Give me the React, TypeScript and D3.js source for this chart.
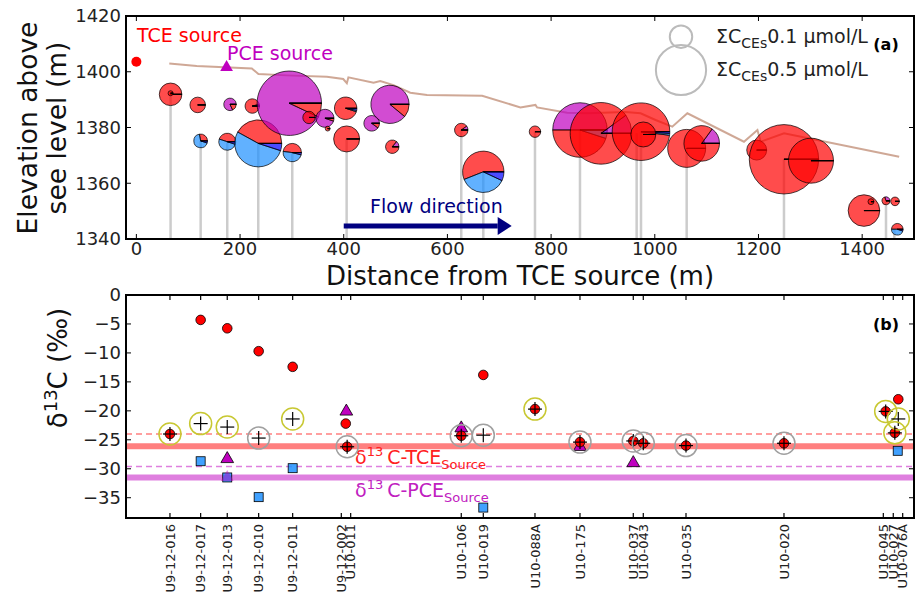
import React from "react";
import * as d3 from "d3";

const W = 917;
const H = 601;

// ---- Panel (a): ground surface profile ----
const surfaceDistance = [63.5, 116.5, 222.7, 235.4, 290.3, 367.5, 399, 406, 409, 457.5, 470.5, 496, 528.4, 560.6, 667, 740.8, 769.8, 773, 831, 869.6, 943.6, 972.6, 1001.5, 1033.8, 1062.8, 1172, 1198, 1204.3, 1249.3, 1471.4];
const surfaceElevation = [1403.0, 1402.1, 1401.2, 1399.2, 1398.7, 1398.2, 1397.4, 1395.9, 1398.0, 1396.1, 1396.7, 1395.2, 1392.5, 1391.7, 1391.4, 1387.2, 1388.1, 1387.2, 1385.3, 1385.1, 1385.6, 1385.1, 1382.7, 1380.3, 1385.1, 1374.9, 1379.1, 1374.9, 1377.9, 1369.5];

// ---- Panel (a): sampling points (pies) ----
const pieDistance = [66, 66, 118.3, 124, 180.6, 175.3, 223.6, 235.1, 295, 300.7, 333, 363.8, 369, 403.7, 405.6, 453.9, 489.2, 493.6, 626.7, 669.2, 768.9, 855.7, 896.2, 973.4, 977.8, 1061.5, 1090.5, 1196.6, 1249.2, 1301.3, 1403.5, 1417, 1446, 1463.4, 1467.8];
const pieElevation = [1391.9, 1392.3, 1388.1, 1375.2, 1388.3, 1374.9, 1387.7, 1374.3, 1388.7, 1371, 1383.6, 1383.3, 1379.6, 1386.9, 1375.9, 1381.5, 1388.3, 1373.1, 1379.1, 1364.1, 1378.5, 1379.1, 1377.9, 1378.5, 1377.5, 1372.5, 1374.3, 1371.9, 1368.6, 1368.1, 1350.2, 1353.4, 1353.7, 1353.5, 1343.5];
// total chlorinated ethenes, µmol/L
const pieTotal = [0.101, 0.005, 0.048, 0.037, 0.031, 0.057, 0.041, 0.438, 0.823, 0.067, 0.0305, 0.064, 0.0046, 0.1, 0.134, 0.048, 0.29, 0.036, 0.036, 0.34, 0.026, 0.59, 0.753, 0.658, 0.124, 0.286, 0.251, 0.079, 0.955, 0.402, 0.198, 0.007, 0.0127, 0.0147, 0.0267];
// molar shares: [PCE, TCE, cDCE, VC]
const pieShares: number[][] = [
  [0, 1, 0, 0], [0, 1, 0, 0], [0, 1, 0, 0], [0, 0.28, 0.67, 0.05], [0.82, 0.18, 0, 0],
  [0, 0.45, 0.5, 0.05], [0.04, 0.96, 0, 0], [0, 0.42, 0.53, 0.05], [0.93, 0.07, 0, 0], [0, 0.48, 0.48, 0.04],
  [0, 1, 0, 0], [0.95, 0.05, 0, 0], [0, 1, 0, 0], [0, 0.95, 0.02, 0.03], [0, 1, 0, 0],
  [0.9, 0.1, 0, 0], [0.89, 0.11, 0, 0], [0.14, 0.86, 0, 0], [0.1, 0.9, 0, 0], [0, 0.56, 0.37, 0.07],
  [0, 1, 0, 0], [0.5, 0.45, 0.05, 0], [0.1, 0.9, 0, 0], [0, 0.98, 0.01, 0.01], [0, 1, 0, 0],
  [0, 1, 0, 0], [0.15, 0.85, 0, 0], [0, 1, 0, 0], [0, 1, 0, 0], [0, 1, 0, 0],
  [0, 1, 0, 0], [0, 1, 0, 0], [0.3, 0.7, 0, 0], [0, 1, 0, 0], [0, 0.5, 0.45, 0.05],
];
const speciesColors = ["#bf00bf", "#ff0000", "#1e90ff", "#0000ff"];

// well screens drawn as stems from the axis floor
const stemDistance = [66, 124, 175.3, 235.1, 300.7, 405.6, 626.7, 669.2, 768.9, 855.7, 965, 973.4, 1061.5, 1249.2, 1446, 1462];
const stemTop = [1391.9, 1375.2, 1374.9, 1374.3, 1371, 1375.9, 1379.1, 1364.1, 1378.5, 1379.1, 1378, 1378.5, 1372.5, 1368.6, 1353.7, 1343.5];

const sizeLegend = [0.1, 0.5];
const elevTicks = [1340, 1360, 1380, 1400, 1420];
const distTicks = [0, 200, 400, 600, 800, 1000, 1200, 1400];

// ---- Panel (b): wells and carbon isotope values ----
const wellNames = ["U9-12-016", "U9-12-017", "U9-12-013", "U9-12-010", "U9-12-011", "U9-12-002", "U10-011", "U10-106", "U10-019", "U10-088A", "U10-175", "U10-037", "U10-043", "U10-035", "U10-020", "U10-045", "U10-027", "U10-076A"];
const wellDistance = [64.8, 124, 175.3, 235.9, 301.5, 395.3, 413.4, 626.7, 669.2, 768.9, 855.7, 958.5, 977.8, 1060.2, 1249.2, 1440.8, 1460, 1478.2];

const tceDist = [64.8, 124, 175.3, 235.9, 301.5, 403.9, 406.6, 626.7, 669.2, 768.9, 855.7, 958.5, 977.8, 1060.2, 1249.2, 1445.4, 1469.7, 1463];
const tceDelta = [-24.0, -4.3, -5.75, -9.7, -12.4, -22.2, -26.2, -24.3, -13.8, -19.7, -25.4, -25.2, -25.6, -26.0, -25.6, -20.1, -18.0, -23.8];

const pceDist = [175.3, 175.3, 405, 626.7, 855.7, 958.5];
const pceDelta = [-31.5, -28.3, -20.1, -23.0, -26.2, -29.0];

const dceDist = [124, 175.3, 235.9, 301.5, 669.2, 1468.6];
const dceDelta = [-28.7, -31.5, -34.9, -29.9, -36.7, -26.9];

// isotope mass balance of all ethenes; flag 1 = ring in olive
const sumDist = [64.8, 124, 175.3, 235.9, 301.5, 406.6, 626.7, 669.2, 768.9, 855.7, 958.5, 977.8, 1060.2, 1249.2, 1445.4, 1469.7, 1463];
const sumDelta = [-24.0, -22.2, -22.8, -24.7, -21.4, -26.2, -24.3, -24.2, -19.7, -25.4, -25.2, -25.6, -26.0, -25.6, -20.1, -21.4, -23.8];
const sumFlag = [1, 1, 1, 0, 1, 0, 0, 0, 1, 0, 0, 0, 0, 0, 1, 1, 1];

const tceSource = { mean: -26.1, upper: -24.0 };
const pceSource = { mean: -31.5, upper: -29.6 };
const deltaTicks = [0, -5, -10, -15, -20, -25, -30, -35];

const FONT = "DejaVu Sans, sans-serif";

export default function App() {
  const x = d3.scaleLinear().domain([-20, 1500]).range([126, 914]);
  const yA = d3.scaleLinear().domain([1340, 1420]).range([239, 16]);
  const yB = d3.scaleLinear().domain([-38.5, 0]).range([518, 295]);
  const r = d3.scaleSqrt().domain([0, 1]).range([0, 35.5]);

  const pieGen = d3
    .pie<number>()
    .sort(null)
    .value((d) => d)
    .startAngle(Math.PI / 2)
    .endAngle(Math.PI / 2 - 2 * Math.PI);

  const surfaceLine = d3
    .line<number>()
    .x((_, i) => x(surfaceDistance[i]))
    .y((d) => yA(d));

  const [xa0, xa1] = x.range();
  const [ya0, ya1] = yA.range();
  const [yb0, yb1] = yB.range();
  const tickLen = 5;

  const triangle = d3.symbol(d3.symbolTriangle, 70)() as string;
  const fmt = d3.format("d");

  return (
    <svg
      width={W}
      height={H}
      style={{ position: "absolute", left: 0, top: 0, background: "#fff" }}
      fontFamily={FONT}
    >
      <defs>
        <clipPath id="clipA">
          <rect x={xa0} y={ya1} width={xa1 - xa0} height={ya0 - ya1} />
        </clipPath>
      </defs>

      {/* ================= Panel (a) ================= */}
      <g clipPath="url(#clipA)">
        {stemDistance.map((d, i) => (
          <line
            key={"st" + i}
            x1={x(d)}
            x2={x(d)}
            y1={ya0}
            y2={yA(stemTop[i])}
            stroke="#808080"
            strokeOpacity={0.4}
            strokeWidth={2.5}
          />
        ))}
        <path
          d={surfaceLine(surfaceElevation) || ""}
          fill="none"
          stroke="sienna"
          strokeOpacity={0.5}
          strokeWidth={2}
        />
        {pieDistance.map((d, i) => {
          const cx = x(d);
          const cy = yA(pieElevation[i]);
          const rad = r(pieTotal[i]);
          const arc = d3.arc<d3.PieArcDatum<number>>().innerRadius(0).outerRadius(rad);
          return (
            <g key={"pie" + i} transform={`translate(${cx},${cy})`}>
              {pieGen(pieShares[i]).map((a, j) => (
                <path
                  key={j}
                  d={arc(a) || ""}
                  fill={speciesColors[j]}
                  fillOpacity={0.7}
                  stroke="#000"
                  strokeOpacity={0.7}
                  strokeWidth={1}
                />
              ))}
              <line x1={0} y1={0} x2={rad} y2={0} stroke="#000" strokeWidth={1} strokeOpacity={0.8} />
            </g>
          );
        })}
        {/* flow direction arrow */}
        <line
          x1={x(400)}
          x2={x(697)}
          y1={yA(1344.7)}
          y2={yA(1344.7)}
          stroke="#000080"
          strokeWidth={5}
        />
        <path
          d={`M${x(697)},${yA(1344.7) - 9} L${x(724)},${yA(1344.7)} L${x(697)},${yA(1344.7) + 9} Z`}
          fill="#000080"
        />
      </g>

      {/* sources */}
      <circle cx={x(0)} cy={yA(1403.6)} r={5} fill="#ff0000" />
      <path d={triangle} transform={`translate(${x(174)},${yA(1401.6)})`} fill="#bf00bf" />
      <text x={137} y={42} fontSize={19} fill="#ff0000">TCE source</text>
      <text x={227} y={60} fontSize={19} fill="#bf00bf">PCE source</text>
      <text x={370} y={213} fontSize={19} fill="#000080">Flow direction</text>

      {/* size legend */}
      {sizeLegend.map((c, i) => (
        <g key={"lg" + i}>
          <circle
            cx={681}
            cy={i === 0 ? 36.7 : 70}
            r={r(c)}
            fill="none"
            stroke="#bbbbbb"
            strokeWidth={2}
          />
          <text x={716} y={i === 0 ? 43 : 76} fontSize={19} fill="#222">
            ΣC<tspan fontSize={14} dy={5}>CEs</tspan>
            <tspan dy={-5}>{c} µmol/L</tspan>
          </text>
        </g>
      ))}
      <text x={886} y={50} fontSize={16} fontWeight="bold" textAnchor="middle">(a)</text>

      {/* axes (a) */}
      <rect x={xa0} y={ya1} width={xa1 - xa0} height={ya0 - ya1} fill="none" stroke="#000" strokeWidth={2} />
      {elevTicks.map((t) => (
        <g key={"ey" + t}>
          <line x1={xa0} x2={xa0 + tickLen} y1={yA(t)} y2={yA(t)} stroke="#000" strokeWidth={1} />
          <line x1={xa1} x2={xa1 - tickLen} y1={yA(t)} y2={yA(t)} stroke="#000" strokeWidth={1} />
          <text x={xa0 - 5} y={yA(t)} dy="0.35em" textAnchor="end" fontSize={18} fill="#222">
            {t}
          </text>
        </g>
      ))}
      {distTicks.map((t) => (
        <g key={"dx" + t}>
          <line x1={x(t)} x2={x(t)} y1={ya0} y2={ya0 - tickLen} stroke="#000" strokeWidth={1} />
          <line x1={x(t)} x2={x(t)} y1={ya1} y2={ya1 + tickLen} stroke="#000" strokeWidth={1} />
          <text x={x(t)} y={255} textAnchor="middle" fontSize={18} fill="#222">
            {t}
          </text>
        </g>
      ))}
      <text x={520} y={285} textAnchor="middle" fontSize={26} fill="#111">
        Distance from TCE source (m)
      </text>
      <g transform="translate(37,128) rotate(-90)">
        <text textAnchor="middle" fontSize={26.5} fill="#111">Elevation above</text>
      </g>
      <g transform="translate(66,128) rotate(-90)">
        <text textAnchor="middle" fontSize={26.5} fill="#111">see level (m)</text>
      </g>

      {/* ================= Panel (b) ================= */}
      {/* source signatures */}
      <line x1={xa0} x2={xa1} y1={yB(tceSource.mean)} y2={yB(tceSource.mean)} stroke="#ff0000" strokeOpacity={0.5} strokeWidth={6} />
      <line x1={xa0} x2={xa1} y1={yB(tceSource.upper)} y2={yB(tceSource.upper)} stroke="#ff0000" strokeOpacity={0.5} strokeWidth={1.5} strokeDasharray="6,4" />
      <line x1={xa0} x2={xa1} y1={yB(pceSource.mean)} y2={yB(pceSource.mean)} stroke="#bf00bf" strokeOpacity={0.5} strokeWidth={6} />
      <line x1={xa0} x2={xa1} y1={yB(pceSource.upper)} y2={yB(pceSource.upper)} stroke="#bf00bf" strokeOpacity={0.5} strokeWidth={1.5} strokeDasharray="6,4" />

      <text x={355} y={464} fontSize={19} fill="#ff2020">
        δ<tspan fontSize={13} dy={-8}>13</tspan>
        <tspan dy={8} dx={4}>C-TCE</tspan>
        <tspan fontSize={13} dy={5}>Source</tspan>
      </text>
      <text x={355} y={497} fontSize={19} fill="#c020c0">
        δ<tspan fontSize={13} dy={-8}>13</tspan>
        <tspan dy={8} dx={4}>C-PCE</tspan>
        <tspan fontSize={13} dy={5}>Source</tspan>
      </text>

      {/* cDCE squares */}
      {dceDist.map((d, i) => (
        <rect
          key={"dc" + i}
          x={x(d) - 4.5}
          y={yB(dceDelta[i]) - 4.5}
          width={9}
          height={9}
          fill="#1e90ff"
          fillOpacity={0.85}
          stroke="#000"
          strokeWidth={0.8}
        />
      ))}
      {/* PCE triangles */}
      {pceDist.map((d, i) => (
        <path
          key={"pc" + i}
          d={triangle}
          transform={`translate(${x(d)},${yB(pceDelta[i])})`}
          fill="#bf00bf"
          fillOpacity={i === 0 ? 0.45 : 1}
          stroke="#000"
          strokeWidth={i === 0 ? 0 : 0.8}
        />
      ))}
      {/* TCE circles */}
      {tceDist.map((d, i) => (
        <circle key={"tc" + i} cx={x(d)} cy={yB(tceDelta[i])} r={4.8} fill="#ff0000" stroke="#000" strokeWidth={0.8} />
      ))}
      {/* mass balance: plus with ring */}
      {sumDist.map((d, i) => {
        const cx = x(d);
        const cy = yB(sumDelta[i]);
        return (
          <g key={"sm" + i}>
            <line x1={cx - 7} x2={cx + 7} y1={cy} y2={cy} stroke="#000" strokeWidth={1.2} />
            <line x1={cx} x2={cx} y1={cy - 7} y2={cy + 7} stroke="#000" strokeWidth={1.2} />
            <circle
              cx={cx}
              cy={cy}
              r={11}
              fill="none"
              stroke={sumFlag[i] ? "#c8c832" : "#a0a0a0"}
              strokeWidth={1.5}
            />
          </g>
        );
      })}

      <text x={886} y={330} fontSize={16} fontWeight="bold" textAnchor="middle">(b)</text>

      {/* axes (b) */}
      <rect x={xa0} y={yb1} width={xa1 - xa0} height={yb0 - yb1} fill="none" stroke="#000" strokeWidth={2} />
      {deltaTicks.map((t) => (
        <g key={"by" + t}>
          <line x1={xa0} x2={xa0 + tickLen} y1={yB(t)} y2={yB(t)} stroke="#000" strokeWidth={1} />
          <line x1={xa1} x2={xa1 - tickLen} y1={yB(t)} y2={yB(t)} stroke="#000" strokeWidth={1} />
          <text x={xa0 - 5} y={yB(t)} dy="0.35em" textAnchor="end" fontSize={18} fill="#222">
            {fmt(t)}
          </text>
        </g>
      ))}
      {wellDistance.map((d, i) => (
        <g key={"wl" + i}>
          <line x1={x(d)} x2={x(d)} y1={yb0} y2={yb0 - tickLen} stroke="#000" strokeWidth={1.2} />
          <line x1={x(d)} x2={x(d)} y1={yb1} y2={yb1 + tickLen} stroke="#000" strokeWidth={1.2} />
          <text
            transform={`translate(${x(d)},${yb0 + 6}) rotate(-90)`}
            dy="0.35em"
            textAnchor="end"
            fontSize={13}
            fill="#222"
          >
            {wellNames[i]}
          </text>
        </g>
      ))}
      <g transform="translate(67,368) rotate(-90)">
        <text textAnchor="middle" fontSize={26} fill="#111">
          δ<tspan fontSize={18} dy={-10}>13</tspan>
          <tspan dy={10}>C (‰)</tspan>
        </text>
      </g>
    </svg>
  );
}
